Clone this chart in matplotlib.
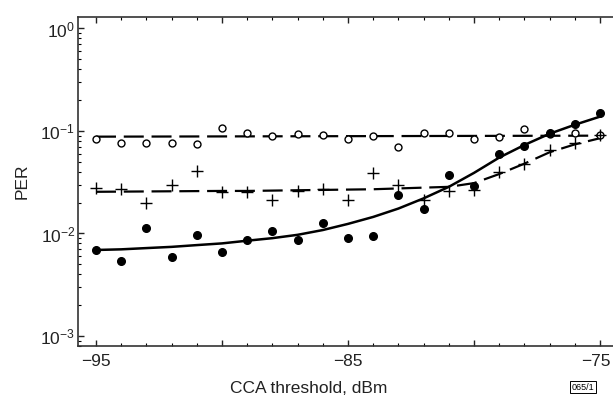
import matplotlib
matplotlib.use("Agg")
import matplotlib.pyplot as plt
from matplotlib.transforms import ScaledTranslation
from matplotlib.ticker import FixedLocator, FixedFormatter, LogLocator, NullFormatter, MultipleLocator

plt.rcParams['font.family'] = ['Liberation Sans', 'DejaVu Sans']
plt.rcParams['mathtext.fontset'] = 'custom'
plt.rcParams['mathtext.rm'] = 'Liberation Sans'
plt.rcParams['mathtext.it'] = 'Liberation Sans'
plt.rcParams['axes.unicode_minus'] = True

# CCA threshold, dBm
cca = [-95, -94, -93, -92, -91, -90, -89, -88, -87, -86, -85,
       -84, -83, -82, -81, -80, -79, -78, -77, -76, -75]

# measured PER (open circles)
per_circle = [0.083, 0.076, 0.076, 0.076, 0.075, 0.106, 0.096, 0.089, 0.093, 0.091, 0.083,
              0.089, 0.069, 0.096, 0.095, 0.083, 0.088, 0.104, 0.093, 0.095, 0.091]
# measured PER (plus)
per_plus = [0.0275, 0.027, 0.020, 0.0297, 0.041, 0.0256, 0.0256, 0.021, 0.026, 0.027, 0.021,
            0.039, 0.030, 0.021, 0.026, 0.0266, 0.040, 0.048, 0.065, 0.077, 0.091]
# measured PER (filled dots)
per_dot = [0.0069, 0.0054, 0.0113, 0.0059, 0.0096, 0.0066, 0.0087, 0.0105, 0.0087, 0.0126, 0.0090,
           0.0095, 0.0236, 0.0172, 0.037, 0.029, 0.060, 0.071, 0.096, 0.117, 0.149]

# fitted curves
fit_circle_x = [-95, -75]
fit_circle = [0.088, 0.090]
fit_plus = [0.0255, 0.0256, 0.0257, 0.0258, 0.0259, 0.026, 0.026, 0.0262, 0.0264, 0.0266, 0.0268,
            0.027, 0.0275, 0.028, 0.0285, 0.031, 0.038, 0.048, 0.062, 0.074, 0.085]
fit_dot = [0.0069, 0.0070, 0.0072, 0.0074, 0.0077, 0.0080, 0.0085, 0.0090, 0.0097, 0.0108, 0.0124,
           0.0145, 0.0175, 0.0220, 0.0285, 0.039, 0.055, 0.073, 0.094, 0.115, 0.138]

x_ticks = [-95, -90, -85, -80, -75]
x_tick_labels = ['\u221295', '', '\u221285', '', '\u221275']
y_ticks = [1e-3, 1e-2, 1e-1, 1e0]
y_tick_labels = [r'$10^{-3}$', r'$10^{-2}$', r'$10^{-1}$', r'$10^{0}$']

W, H = 613, 399
fig = plt.figure(figsize=(W / 100, H / 100), dpi=100)
ax = fig.add_axes([78 / W, (H - 346) / H, 537 / W, 329 / H])

ax.plot(fit_circle_x, fit_circle, color='black', lw=1.6, dashes=(9, 3.5))
ax.plot(cca, fit_plus, color='black', lw=1.6, dashes=(9, 3.5))
ax.plot(cca, fit_dot, color='black', lw=1.8)

ax.plot(cca, per_circle, linestyle='none', marker='o', ms=5, mfc='white', mec='black', mew=1.0)
ax.plot(cca, per_plus, linestyle='none', marker='+', ms=8, mec='black', mew=1.0)
ax.plot(cca, per_dot, linestyle='none', marker='o', ms=5.5, mfc='black', mec='black')

ax.set_yscale('log')
ax.set_xlim(-95.714, -74.405)
ax.set_ylim(10 ** -3.098, 10 ** 0.112)

ax.xaxis.set_major_locator(FixedLocator(x_ticks))
ax.xaxis.set_major_formatter(FixedFormatter(x_tick_labels))
ax.xaxis.set_minor_locator(MultipleLocator(1))
ax.yaxis.set_major_locator(FixedLocator(y_ticks))
ax.yaxis.set_major_formatter(FixedFormatter(y_tick_labels))
ax.yaxis.set_minor_locator(LogLocator(base=10, subs=[2, 3, 4, 5, 6, 7, 8, 9]))
ax.yaxis.set_minor_formatter(NullFormatter())

ax.tick_params(axis='both', which='major', direction='in', length=4.5, width=1.0,
               labelsize=12.5, colors='#222222')
ax.tick_params(axis='both', which='minor', direction='in', length=2.5, width=0.8)
ax.tick_params(axis='x', which='both', top=True, bottom=True, pad=6)
ax.tick_params(axis='y', which='both', left=True, right=False, pad=2)

for s in ['left', 'bottom', 'top']:
    ax.spines[s].set_linewidth(1.2)
    ax.spines[s].set_color('#333333')
ax.spines['right'].set_visible(False)

ax.set_xlabel('CCA threshold, dBm', fontsize=12.5, color='#222222', labelpad=4)
ax.xaxis.set_label_coords(0.43, -0.105)
ax.set_ylabel('PER', fontsize=12.5, color='#222222', labelpad=8)

fig.canvas.draw()
last = ax.get_xticklabels()[-1]
last.set_horizontalalignment('right')
last.set_transform(last.get_transform() + ScaledTranslation(11 / 100, 0, fig.dpi_scale_trans))

fig.text(583 / W, (H - 387) / H, '065/1', fontsize=6.5, ha='center', va='center',
         bbox=dict(boxstyle='square,pad=0.2', fc='white', ec='black', lw=0.7))

fig.savefig('out.png', dpi=100)
